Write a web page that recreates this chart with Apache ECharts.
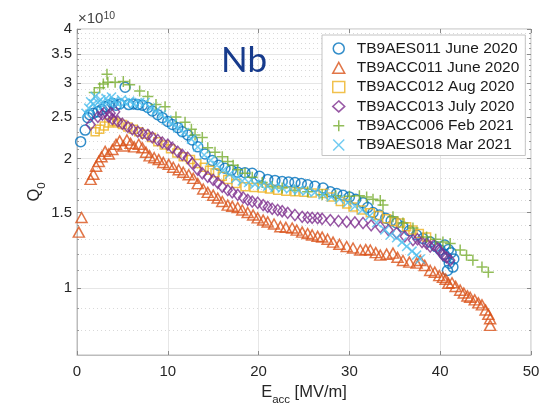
<!DOCTYPE html>
<html><head><meta charset="utf-8">
<script src="https://cdn.jsdelivr.net/npm/echarts@6/dist/echarts.min.js"></script>
<style>html,body{margin:0;padding:0;background:#fff}#c{width:553px;height:404px}</style>
</head><body><div id="c"></div>
<script>
// ---- data (E_acc in MV/m, Q0 in units of 1e10) ----
const seriesNames = ['TB9AES011 June 2020','TB9ACC011 June 2020','TB9ACC012 Aug 2020','TB9ACC013 July 2020','TB9ACC006 Feb 2021','TB9AES018 Mar 2021'];

const aes011E = [0.4,0.9,1.2,1.4,1.8,2.3,2.7,3.1,3.5,3.9,4.3,4.7,5.3,5.7,6.2,6.7,7.2,7.8,8.3,8.9,9.4,10.0,10.5,11.1,11.6,12.2,12.7,13.3,14.1,14.9,15.6,16.3,17.0,17.7,18.5,19.3,20.1,21.0,21.8,22.6,23.3,24.0,24.7,25.4,26.2,27.1,27.9,28.6,29.3,30.0,30.7,31.5,32.0,32.6,33.3,34.0,34.6,35.2,35.9,36.6,37.4,38.1,38.9,39.5,40.0,40.4,40.7,41.0,41.4,40.5,40.9,41.2,41.5,40.8];
const aes011Q = [2.19,2.33,2.49,2.53,2.55,2.57,2.60,2.64,2.66,2.69,2.66,2.68,2.93,2.67,2.68,2.67,2.66,2.63,2.58,2.53,2.49,2.44,2.40,2.36,2.31,2.27,2.21,2.13,2.05,1.98,1.93,1.90,1.88,1.86,1.855,1.85,1.82,1.79,1.78,1.77,1.765,1.76,1.75,1.74,1.725,1.71,1.675,1.66,1.645,1.63,1.61,1.58,1.54,1.50,1.48,1.455,1.435,1.418,1.39,1.36,1.33,1.305,1.28,1.25,1.227,1.20,1.18,1.144,1.12,1.26,1.23,1.21,1.17,1.10];

const acc011E = [0.2,0.5,1.5,1.8,2.1,2.4,2.7,3.1,3.5,3.9,4.3,4.7,5.1,5.5,5.9,6.3,6.8,7.2,7.6,8.0,8.5,9.0,9.5,10.1,10.6,11.2,11.7,12.3,12.8,13.3,13.9,14.4,15.0,15.5,16.0,16.6,17.1,17.7,18.2,18.8,19.4,19.9,20.5,21.0,21.7,22.4,23.0,23.7,24.2,24.8,25.4,25.9,26.5,27.0,27.6,28.2,28.9,29.7,30.4,31.2,31.8,32.3,32.9,33.4,34.1,34.8,35.3,35.9,36.6,37.4,37.8,38.3,38.9,39.4,39.9,40.3,40.6,40.9,41.3,41.7,42.2,42.6,43.0,43.3,43.8,44.2,44.6,45.0,45.3,45.5,45.5];
const acc011Q = [1.35,1.46,1.79,1.84,1.92,1.97,2.02,2.08,2.05,2.10,2.16,2.20,2.14,2.21,2.17,2.13,2.16,2.12,2.07,2.03,2.01,1.99,1.96,1.94,1.91,1.885,1.86,1.835,1.80,1.75,1.70,1.67,1.645,1.62,1.59,1.56,1.55,1.54,1.52,1.50,1.48,1.457,1.44,1.426,1.41,1.39,1.385,1.38,1.365,1.35,1.34,1.33,1.32,1.315,1.30,1.28,1.265,1.25,1.24,1.227,1.23,1.227,1.21,1.194,1.20,1.207,1.18,1.16,1.15,1.144,1.16,1.13,1.10,1.09,1.07,1.06,1.05,1.027,1.03,1.01,0.99,0.975,0.96,0.953,0.94,0.925,0.915,0.89,0.87,0.85,0.82];

const acc012E = [2.0,2.5,3.0,3.5,4.0,4.5,5.0,5.6,6.2,6.8,7.5,8.2,8.9,9.6,10.3,11.0,11.7,12.5,13.2,14.0,14.6,15.2,16.0,16.6,17.5,18.5,19.5,20.4,21.2,22.1,23.0,24.0,25.0,25.9,27.1,28.0,29.0,29.7,30.4,31.3,32.3,33.2,34.1,34.9,35.6,36.3,37.0,37.7,38.5];
const acc012Q = [2.31,2.34,2.38,2.42,2.44,2.42,2.40,2.37,2.34,2.31,2.28,2.24,2.19,2.15,2.11,2.06,2.02,1.99,1.95,1.91,1.88,1.855,1.82,1.79,1.75,1.72,1.715,1.71,1.70,1.69,1.68,1.675,1.67,1.665,1.66,1.63,1.59,1.57,1.545,1.52,1.497,1.475,1.45,1.43,1.418,1.39,1.366,1.34,1.315];

const acc013E = [1.5,2.3,2.8,3.1,3.5,3.7,3.9,4.2,4.5,5.0,5.6,6.1,6.7,7.2,7.8,8.3,8.9,9.4,10.0,10.5,11.1,11.6,12.2,12.7,13.3,13.8,14.4,15.0,15.5,16.0,16.6,17.1,17.7,18.3,18.8,19.3,19.9,20.5,21.0,21.5,22.1,22.6,23.2,24.0,24.8,25.4,25.9,26.5,27.0,27.9,28.8,29.7,30.6,31.5,32.4,33.4,34.3,35.2,36.1,37.0,37.5,38.0,38.5,38.9,39.3,39.7,40.0,40.3,40.7,41.1];
const acc013Q = [2.40,2.50,2.53,2.57,2.50,2.55,2.47,2.57,2.44,2.41,2.37,2.34,2.31,2.29,2.27,2.24,2.21,2.18,2.155,2.12,2.075,2.04,2.01,1.95,1.885,1.85,1.815,1.785,1.757,1.72,1.69,1.67,1.648,1.625,1.604,1.59,1.58,1.56,1.545,1.53,1.52,1.51,1.497,1.48,1.465,1.46,1.457,1.455,1.45,1.44,1.433,1.426,1.422,1.418,1.40,1.388,1.365,1.344,1.32,1.294,1.30,1.28,1.27,1.25,1.26,1.24,1.22,1.194,1.18,1.162];

const acc006E = [1.9,2.5,2.9,3.3,3.4,4.2,5.1,5.8,6.9,7.8,8.7,9.7,10.9,11.9,12.6,13.0,13.8,14.4,15.2,16.0,16.6,17.2,17.7,18.5,19.3,20.4,21.5,22.6,24.0,25.4,27.0,28.5,30.0,31.1,31.9,32.6,33.4,33.7,34.8,35.9,37.0,38.5,39.5,40.3,41.1,42.2,42.9,43.6,44.6,45.3];
const acc006Q = [2.85,2.92,2.98,3.14,3.01,3.01,3.02,2.97,2.87,2.79,2.67,2.64,2.50,2.43,2.34,2.27,2.24,2.12,2.07,2.02,1.97,1.93,1.885,1.85,1.81,1.76,1.72,1.71,1.69,1.675,1.648,1.64,1.635,1.64,1.63,1.61,1.60,1.56,1.465,1.418,1.38,1.315,1.30,1.28,1.27,1.227,1.194,1.162,1.12,1.09];

const aes018E = [1.0,1.3,1.5,1.8,2.0,2.3,2.6,2.9,3.2,3.5,3.8,4.1,4.5,4.9,5.3,5.8,6.3,6.9,7.5,8.1,8.7,9.3,9.9,10.5,11.1,11.8,12.6,13.3,14.0,14.7,15.4,16.1,16.8,17.5,18.2,18.9,19.6,20.3,21.0,21.8,22.6,23.5,24.4,25.3,26.2,27.1,28.0,28.9,29.8,30.6,31.4,32.2,33.0,33.9,34.5,35.2,35.8,36.3,36.9,37.4,37.8];
const aes018Q = [2.55,2.62,2.71,2.68,2.79,2.70,2.74,2.66,2.76,2.70,2.78,2.72,2.68,2.74,2.70,2.72,2.68,2.70,2.70,2.62,2.58,2.53,2.46,2.41,2.36,2.30,2.22,2.13,2.04,1.98,1.93,1.88,1.84,1.80,1.775,1.76,1.745,1.735,1.725,1.715,1.71,1.70,1.69,1.68,1.67,1.65,1.63,1.61,1.58,1.55,1.52,1.47,1.42,1.366,1.33,1.31,1.28,1.25,1.22,1.194,1.17];

const xTicks = [0,10,20,30,40,50];
const yMajorTicks = [1,1.5,2,2.5,3,3.5,4];
const yMinorTicks = [0.8,0.9,1.1,1.2,1.3,1.4,1.6,1.7,1.8,1.9,2.1,2.2,2.3,2.4,2.6,2.7,2.8,2.9,3.1,3.2,3.3,3.4,3.6,3.7,3.8,3.9];

// ---- styling ----
const colors = ['#0072BD','#D95319','#EDB120','#7E2F8E','#77AC30','#4DBEEE'];
const symbols = ['circle','triangle','rect','diamond','path://M5,0L5,10M0,5L10,5','path://M0,0L10,10M10,0L0,10'];
const sizes = [10,[11,10],8,[9,11],11,9];
const allE = [aes011E,acc011E,acc012E,acc013E,acc006E,aes018E];
const allQ = [aes011Q,acc011Q,acc012Q,acc013Q,acc006Q,aes018Q];

const axisGray = '#bcbcbc';
const textCol = '#262626';
const FF = 'Liberation Sans, Arial, sans-serif';

const series = seriesNames.map((n,k)=>({
  name:n, type:'scatter', xAxisIndex:0, yAxisIndex:0,
  symbol:symbols[k], symbolSize:sizes[k],
  itemStyle:{color:'rgba(0,0,0,0)', borderColor:colors[k], borderWidth:1.5},
  data: allE[k].map((e,i)=>[e, allQ[k][i]]),
  silent:true, animation:false
}));

function yAx(extra){
  return Object.assign({type:'log', logBase:10, min:0.7, max:4, position:'left'}, extra);
}

const chart = echarts.init(document.getElementById('c'), null, {renderer:'canvas'});
chart.setOption({
  animation:false,
  backgroundColor:'#fff',
  grid:{left:77, right:22, top:29, bottom:49, show:true, borderColor:axisGray, borderWidth:1, backgroundColor:'#fff', containLabel:false, outerBoundsMode:'none'},
  legend:{
    orient:'vertical', left:322, top:35,
    padding:[4,6,1,10], itemWidth:12, itemHeight:11, itemGap:0.3,
    backgroundColor:'#fff', borderColor:'#c4c4c4', borderWidth:1,
    textStyle:{fontFamily:FF, fontSize:15.5, color:'#1a1a1a', lineHeight:19, padding:[0,0,0,7]},
    itemStyle:{borderWidth:1.5},
    data:seriesNames
  },
  xAxis:[
    {type:'value', min:0, max:50, interval:10, position:'bottom',
     axisLine:{show:true, lineStyle:{color:axisGray}},
     axisTick:{show:true, inside:true, length:4, lineStyle:{color:'#8a8a8a'}},
     axisLabel:{color:textCol, fontSize:15, margin:9, fontFamily:FF},
     splitLine:{show:true, lineStyle:{color:'#e6e6e6', width:1}},
     name:'{e|E}{s|acc}{e| [MV/m]}', nameLocation:'middle', nameGap:29, nameMoveOverlap:false,
     nameTextStyle:{rich:{
       e:{fontSize:16.5, color:textCol, fontFamily:FF, lineHeight:22, verticalAlign:'top'},
       s:{fontSize:11.5, color:textCol, fontFamily:FF, lineHeight:12, verticalAlign:'bottom'}
     }}},
    {type:'value', min:0, max:50, interval:10, position:'top',
     axisLine:{show:false}, axisLabel:{show:false}, splitLine:{show:false},
     axisTick:{show:true, inside:true, length:4, lineStyle:{color:'#8a8a8a'}}}
  ],
  yAxis:[
    yAx({axisLine:{show:true, lineStyle:{color:axisGray}},
      axisTick:{show:true, inside:true, length:4, customValues:yMajorTicks, lineStyle:{color:'#8a8a8a'}},
      axisLabel:{customValues:yMajorTicks, color:textCol, fontSize:15, margin:5, fontFamily:FF,
        formatter:v=>String(Math.round(v*10)/10)},
      splitLine:{show:true, lineStyle:{color:'#e6e6e6', width:1}},
      minorTick:{show:false}, minorSplitLine:{show:false},
      name:'{q|Q}{s|0}', nameLocation:'middle', nameGap:29, nameRotate:90, nameMoveOverlap:false,
      nameTextStyle:{rich:{
        q:{fontSize:16.5, color:textCol, fontFamily:FF, lineHeight:22, verticalAlign:'top'},
        s:{fontSize:11.5, color:textCol, fontFamily:FF, lineHeight:12, verticalAlign:'bottom'}
      }}}),
    yAx({axisLine:{show:false}, axisLabel:{show:false},
      axisTick:{show:true, inside:true, length:2, customValues:yMinorTicks, lineStyle:{color:'#9a9a9a'}},
      splitLine:{show:true, lineStyle:{color:'#d9d9d9', width:1, type:[1,3]}}}),
    yAx({position:'right', axisLine:{show:false}, axisLabel:{show:false}, splitLine:{show:false},
      axisTick:{show:true, inside:true, length:4, customValues:yMajorTicks, lineStyle:{color:'#8a8a8a'}}}),
    yAx({position:'right', axisLine:{show:false}, axisLabel:{show:false}, splitLine:{show:false},
      axisTick:{show:true, inside:true, length:2, customValues:yMinorTicks, lineStyle:{color:'#9a9a9a'}}})
  ],
  graphic:[
    {type:'text', left:78, top:11, silent:true, z:100,
     style:{text:'×10{p|10}', fill:'#444', font:'15px '+FF,
       rich:{p:{fontSize:10.5, fill:'#444', verticalAlign:'top', lineHeight:9, fontFamily:FF}}}},
    {type:'text', left:221, top:43, silent:true, z:100,
     style:{text:'Nb', fill:'#173b8c', stroke:'none', lineWidth:0, font:'35px Lato, Liberation Sans, sans-serif'}}
  ],
  series: series
});
</script>
</body></html>
